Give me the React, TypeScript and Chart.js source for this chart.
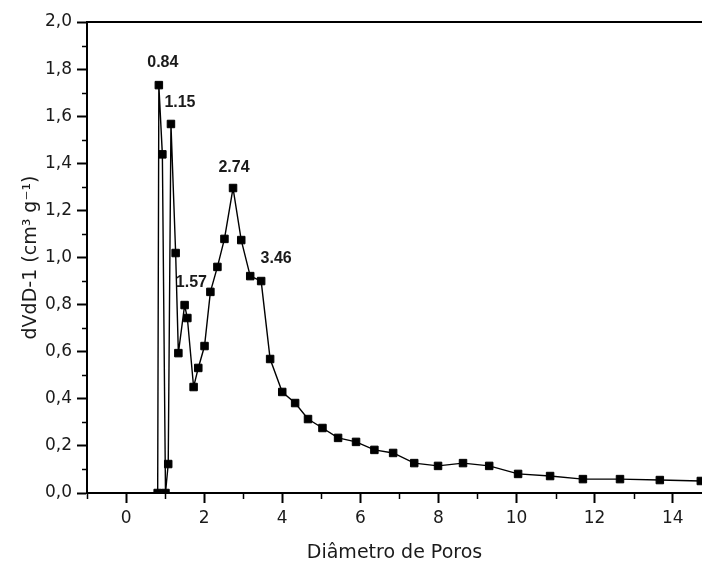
import React, { useEffect, useRef } from 'react';
import { Chart, registerables } from 'chart.js';

Chart.register(...registerables);

// Data
const poreDiameter = [
  0.81, 0.84, 0.93, 1.01, 1.08, 1.15, 1.27, 1.34, 1.5, 1.57,
  1.73, 1.85, 2.01, 2.16, 2.34, 2.52, 2.74, 2.95, 3.18, 3.46,
  3.69, 4.0, 4.33, 4.66, 5.03, 5.43, 5.89, 6.36, 6.84, 7.38,
  7.99, 8.63, 9.3, 10.04, 10.86, 11.7, 12.65, 13.67, 14.72,
];
const dVdD = [
  0, 1.732, 1.438, 0, 0.123, 1.567, 1.019, 0.594, 0.798, 0.743,
  0.45, 0.531, 0.624, 0.854, 0.96, 1.079, 1.295, 1.074, 0.921, 0.9,
  0.569, 0.429, 0.382, 0.314, 0.276, 0.234, 0.217, 0.183, 0.17, 0.127,
  0.115, 0.127, 0.115, 0.081, 0.072, 0.059, 0.059, 0.055, 0.051,
];
const peakIndices = [1, 5, 9, 16, 19];
const peakLabels = ['0.84', '1.15', '1.57', '2.74', '3.46'];

const xMajorTicks = [0, 2, 4, 6, 8, 10, 12, 14];
const xMinorTicks = [-1, 1, 3, 5, 7, 9, 11, 13];
const yMajorTicks = [0, 0.2, 0.4, 0.6, 0.8, 1.0, 1.2, 1.4, 1.6, 1.8, 2.0];
const yMinorTicks = [0.1, 0.3, 0.5, 0.7, 0.9, 1.1, 1.3, 1.5, 1.7, 1.9];

const xMin = -1;
const xMax = 14.75;
const yMin = 0;
const yMax = 2;

const xTitle = 'Diâmetro de Poros';
const yTitle = 'dVdD-1 (cm³ g⁻¹)';

// label offsets relative to the marker (styling, not data)
const labelOffsets = [
  [4, -23],
  [9, -21],
  [4, -35],
  [1, -20],
  [15, -22],
];

const INK = '#1a1a1a';

const decorPlugin = {
  id: 'decor',
  afterDraw(chart: any) {
    const ctx = chart.ctx;
    const area = chart.chartArea;
    const xs = chart.scales.x;
    const ys = chart.scales.y;
    ctx.save();
    ctx.strokeStyle = '#000';
    // top frame line
    ctx.lineWidth = 2;
    ctx.beginPath();
    ctx.moveTo(area.left, area.top);
    ctx.lineTo(chart.width, area.top);
    ctx.stroke();
    // minor ticks
    ctx.lineWidth = 1.5;
    ctx.beginPath();
    xMinorTicks.forEach((v) => {
      const px = Math.round(xs.getPixelForValue(v)) + 0.5;
      ctx.moveTo(px, area.bottom);
      ctx.lineTo(px, area.bottom + 6);
    });
    yMinorTicks.forEach((v) => {
      const py = Math.round(ys.getPixelForValue(v)) + 0.5;
      ctx.moveTo(area.left, py);
      ctx.lineTo(area.left - 5, py);
    });
    ctx.stroke();
    ctx.restore();
  },
  afterDatasetsDraw(chart: any) {
    const ctx = chart.ctx;
    const meta = chart.getDatasetMeta(0);
    ctx.save();
    ctx.fillStyle = INK;
    ctx.font = 'bold 16px "Liberation Sans", Arial, sans-serif';
    ctx.textAlign = 'center';
    ctx.textBaseline = 'middle';
    peakIndices.forEach((idx, i) => {
      const pt = meta.data[idx];
      if (!pt) return;
      const [dx, dy] = labelOffsets[i];
      ctx.fillText(peakLabels[i], pt.x + dx, pt.y + dy);
    });
    ctx.restore();
  },
};

export default function App() {
  const canvasRef = useRef<HTMLCanvasElement | null>(null);

  useEffect(() => {
    if (!canvasRef.current) return;
    const points = poreDiameter.map((x, i) => ({ x, y: dVdD[i] }));
    const xAll = [...xMajorTicks, ...xMinorTicks].sort((a, b) => a - b);
    const yAll = [...yMajorTicks, ...yMinorTicks].sort((a, b) => a - b);
    const isMajorX = (v: number) => xMajorTicks.some((t) => Math.abs(t - v) < 1e-6);
    const isMajorY = (v: number) => yMajorTicks.some((t) => Math.abs(t - v) < 1e-6);

    const chart = new Chart(canvasRef.current, {
      type: 'line',
      data: {
        datasets: [
          {
            data: points,
            borderColor: '#000',
            borderWidth: 1.4,
            backgroundColor: '#000',
            pointStyle: 'rect',
            pointRadius: 5.3,
            pointBorderWidth: 1,
            pointBackgroundColor: '#000',
            pointBorderColor: '#000',
            tension: 0,
          },
        ],
      },
      options: {
        responsive: false,
        animation: false,
        layout: { autoPadding: false, padding: { top: 22, left: 0, right: 0, bottom: 0 } },
        plugins: {
          legend: { display: false },
          tooltip: { enabled: false },
        },
        scales: {
          x: {
            type: 'linear',
            min: xMin,
            max: xMax,
            afterBuildTicks: (axis: any) => {
              axis.ticks = xAll.map((v) => ({ value: v }));
            },
            afterFit: (axis: any) => {
              axis.height = 70;
              axis.paddingLeft = 0;
              axis.paddingRight = 0;
            },
            border: { display: true, color: '#000', width: 2 },
            grid: {
              display: true,
              drawOnChartArea: false,
              drawTicks: true,
              tickLength: 10,
              tickWidth: 2,
              tickColor: (c: any) => (isMajorX(c.tick.value) ? '#000' : 'rgba(0,0,0,0)'),
            },
            ticks: {
              color: INK,
              padding: 5,
              maxRotation: 0,
              autoSkip: false,
              font: { family: '"DejaVu Sans", sans-serif', size: 17 },
              callback: (v: any) => (isMajorX(Number(v)) ? String(Number(v)) : ''),
            },
            title: {
              display: true,
              text: xTitle,
              color: INK,
              font: { family: '"DejaVu Sans", sans-serif', size: 19, lineHeight: 1 },
              padding: { top: 0, bottom: 0 },
            },
          },
          y: {
            type: 'linear',
            min: yMin,
            max: yMax,
            afterBuildTicks: (axis: any) => {
              axis.ticks = yAll.map((v) => ({ value: v }));
            },
            afterFit: (axis: any) => {
              axis.width = 87;
              axis.paddingTop = 0;
              axis.paddingBottom = 0;
            },
            border: { display: true, color: '#000', width: 2 },
            grid: {
              display: true,
              drawOnChartArea: false,
              drawTicks: true,
              tickLength: 10,
              tickWidth: 2,
              tickColor: (c: any) => (isMajorY(c.tick.value) ? '#000' : 'rgba(0,0,0,0)'),
            },
            ticks: {
              color: INK,
              padding: 5,
              autoSkip: false,
              font: { family: '"DejaVu Sans", sans-serif', size: 17 },
              callback: (v: any) =>
                isMajorY(Number(v)) ? Number(v).toFixed(1).replace('.', ',') : '',
            },
            title: {
              display: true,
              text: yTitle,
              color: INK,
              font: { family: '"DejaVu Sans", sans-serif', size: 19, lineHeight: 1.2 },
              padding: { top: 20, bottom: 0 },
            },
          },
        },
      },
      plugins: [decorPlugin],
    } as any);

    return () => chart.destroy();
  }, []);

  return (
    <div style={{ position: 'absolute', left: 0, top: 0, width: 702, height: 563, background: '#fff' }}>
      <canvas ref={canvasRef} width={702} height={563} style={{ display: 'block' }} />
    </div>
  );
}
